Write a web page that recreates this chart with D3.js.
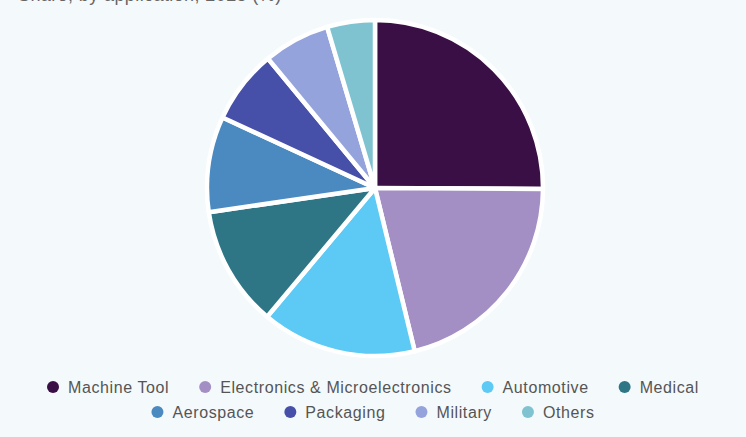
<!DOCTYPE html>
<html lang="en">
<head>
<meta charset="utf-8">
<title>Share by application</title>
<script src="https://cdn.jsdelivr.net/npm/d3@7"></script>
<style>
  html, body { margin: 0; padding: 0; background: #f4f9fc; }
  svg text { font-family: "Liberation Sans", Arial, sans-serif; }
  .legend text { font-size: 16px; fill: #555; letter-spacing: 0.6px; }
</style>
</head>
<body>
<div id="chart"></div>
<script>
var categories = ["Machine Tool", "Electronics & Microelectronics", "Automotive", "Medical",
                  "Aerospace", "Packaging", "Military", "Others"];
var shares = [25.1, 21.1, 14.9, 11.6, 9.2, 7.1, 6.4, 4.6];
var colors = ["#3a0f45", "#a48fc4", "#5ccaf5", "#2e7686", "#4a8ac0", "#4650a8", "#95a3dd", "#7fc3d0"];
var legendRows = [[0, 1, 2, 3], [4, 5, 6, 7]];

var width = 746, height = 437;
var cx = 375, cy = 188, radius = 168;

var svg = d3.select("#chart").append("svg")
    .attr("width", width)
    .attr("height", height);

// title is cut off at the top in the original
svg.append("text")
    .attr("x", 18)
    .attr("y", 1)
    .attr("font-size", 18)
    .attr("letter-spacing", "0.4px")
    .attr("fill", "#666")
    .text("Share, by application, 2025 (%)");

var color = d3.scaleOrdinal().domain(categories).range(colors);

var pie = d3.pie().sort(null).value(function(d, i) { return shares[i]; });
var arc = d3.arc().innerRadius(0).outerRadius(radius);

svg.append("g")
    .attr("transform", "translate(" + cx + "," + cy + ")")
    .selectAll("path")
    .data(pie(categories))
    .join("path")
    .attr("d", arc)
    .attr("fill", function(d) { return color(d.data); })
    .attr("stroke", "#ffffff")
    .attr("stroke-width", 4.5)
    .attr("stroke-linejoin", "round");

// legend, two centred rows
var legend = svg.append("g").attr("class", "legend");
var rowY = [387, 412];
legendRows.forEach(function(row, r) {
  var g = legend.append("g");
  var x = 0;
  row.forEach(function(idx, k) {
    var item = g.append("g").attr("transform", "translate(" + x + ",0)");
    item.append("circle").attr("cx", 6).attr("cy", 0).attr("r", 6).attr("fill", colors[idx]);
    var t = item.append("text").attr("x", 21).attr("y", 5.5).text(categories[idx]);
    x += 21 + t.node().getComputedTextLength() + 30;
  });
  var total = x - 30;
  g.attr("transform", "translate(" + (373 - total / 2) + "," + rowY[r] + ")");
});
</script>
</body>
</html>
